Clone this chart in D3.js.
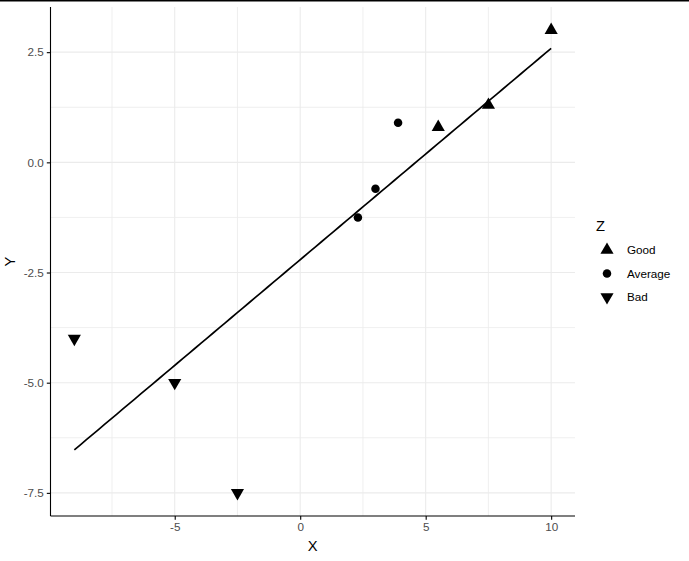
<!DOCTYPE html>
<html>
<head>
<meta charset="utf-8">
<script src="https://cdn.jsdelivr.net/npm/d3@7"></script>
<style>
  html, body { margin: 0; padding: 0; background: #fff; }
  svg { display: block; font-family: "Liberation Sans", Arial, sans-serif; }
</style>
</head>
<body>
<script>
// ---- data ----
const xValues = [10, 5.5, 7.5, 2.3, 3.0, 3.9, -9, -5, -2.5];
const yValues = [3.0, 0.8, 1.3, -1.25, -0.6, 0.9, -4.0, -5.0, -7.5];
const zValues = ["Good", "Good", "Good", "Average", "Average", "Average", "Bad", "Bad", "Bad"];
const zLevels = ["Good", "Average", "Bad"];
const xTicks = [-5, 0, 5, 10];
const xMinor = [-7.5, -2.5, 2.5, 7.5];
const yTicks = [-7.5, -5, -2.5, 0, 2.5];
const yMinor = [-6.25, -3.75, -1.25, 1.25];

const W = 689, H = 561;
const panel = { left: 50.5, right: 575, top: 7, bottom: 516 };

const svg = d3.select("body").append("svg").attr("width", W).attr("height", H);
svg.append("rect").attr("width", W).attr("height", H).attr("fill", "#fff");

// top border line
svg.append("line").attr("x1", 0).attr("x2", W).attr("y1", 0.75).attr("y2", 0.75)
  .attr("stroke", "#000").attr("stroke-width", 1.5);

const xExt = d3.extent(xValues), yExt = d3.extent(yValues);
const xPad = (xExt[1] - xExt[0]) * 0.05, yPad = (yExt[1] - yExt[0]) * 0.05;
const x = d3.scaleLinear().domain([xExt[0] - xPad, xExt[1] + xPad]).range([panel.left, panel.right]);
const y = d3.scaleLinear().domain([yExt[0] - yPad, yExt[1] + yPad]).range([panel.bottom, panel.top]);

// grid
const grid = svg.append("g");
xMinor.concat(xTicks).forEach(v => grid.append("line")
  .attr("x1", x(v)).attr("x2", x(v)).attr("y1", panel.top).attr("y2", panel.bottom)
  .attr("stroke", "#EBEBEB").attr("stroke-width", xTicks.includes(v) ? 1.1 : 0.8));
yMinor.concat(yTicks).forEach(v => grid.append("line")
  .attr("y1", y(v)).attr("y2", y(v)).attr("x1", panel.left).attr("x2", panel.right)
  .attr("stroke", "#EBEBEB").attr("stroke-width", yTicks.includes(v) ? 1.1 : 0.8));

// regression line (OLS on the points)
const mx = d3.mean(xValues), my = d3.mean(yValues);
const sxy = d3.sum(xValues, (v, i) => (v - mx) * (yValues[i] - my));
const sxx = d3.sum(xValues, v => (v - mx) * (v - mx));
const slope = sxy / sxx, intercept = my - slope * mx;
const fitX = d3.range(80).map(i => xExt[0] + (xExt[1] - xExt[0]) * i / 79);
svg.append("path")
  .attr("d", d3.line().x(d => x(d)).y(d => y(intercept + slope * d))(fitX))
  .attr("fill", "none").attr("stroke", "#000").attr("stroke-width", 1.7);

// points
const symbolFor = {
  Good: d3.symbol().type(d3.symbolTriangle).size(75),
  Average: d3.symbol().type(d3.symbolCircle).size(57),
  Bad: d3.symbol().type(d3.symbolTriangle).size(75)
};
const rot = { Good: 0, Average: 0, Bad: 180 };
svg.append("g").selectAll("path").data(xValues.map((v, i) => ({ x: v, y: yValues[i], z: zValues[i] })))
  .join("path")
  .attr("d", d => symbolFor[d.z]())
  .attr("transform", d => `translate(${x(d.x)},${y(d.y)}) rotate(${rot[d.z]})`)
  .attr("fill", "#000");

// axes
const hy = f => v => f(v).replace("\u2212", "-");
const xAxis = svg.append("g").attr("transform", `translate(0,${panel.bottom})`)
  .call(d3.axisBottom(x).tickValues(xTicks).tickFormat(hy(d3.format("d"))).tickSize(3.7).tickPadding(3));
const yAxis = svg.append("g").attr("transform", `translate(${panel.left},0)`)
  .call(d3.axisLeft(y).tickValues(yTicks).tickFormat(hy(d3.format(".1f"))).tickSize(3.7).tickPadding(3));
[xAxis, yAxis].forEach(a => {
  a.select(".domain").attr("stroke", "#000").attr("stroke-width", 1.1);
  a.selectAll(".tick line").attr("stroke", "#000").attr("stroke-width", 1.1);
  a.selectAll(".tick text").attr("fill", "#4D4D4D").style("font-size", "11.7px")
    .style("font-family", "Liberation Sans, Arial, sans-serif");
});
// domain without end caps
xAxis.select(".domain").attr("d", `M${panel.left},0H${panel.right}`);
yAxis.select(".domain").attr("d", `M0,${panel.top}V${panel.bottom}`);

// axis titles
svg.append("text").attr("x", (panel.left + panel.right) / 2).attr("y", 551)
  .attr("text-anchor", "middle").style("font-size", "14.7px").attr("fill", "#000").text("X");
svg.append("text").attr("transform", `translate(15,${(panel.top + panel.bottom) / 2}) rotate(-90)`)
  .attr("text-anchor", "middle").style("font-size", "14.7px").attr("fill", "#000").text("Y");

// legend
const lg = svg.append("g");
lg.append("text").attr("x", 596).attr("y", 231).style("font-size", "14.7px").attr("fill", "#000").text("Z");
zLevels.forEach((lv, i) => {
  const cy = 250 + i * 23.5;
  lg.append("path").attr("d", symbolFor[lv]())
    .attr("transform", `translate(607,${cy}) rotate(${rot[lv]})`).attr("fill", "#000");
  lg.append("text").attr("x", 627).attr("y", cy + 4.2).style("font-size", "11.7px")
    .attr("fill", "#000").text(lv);
});
</script>
</body>
</html>
